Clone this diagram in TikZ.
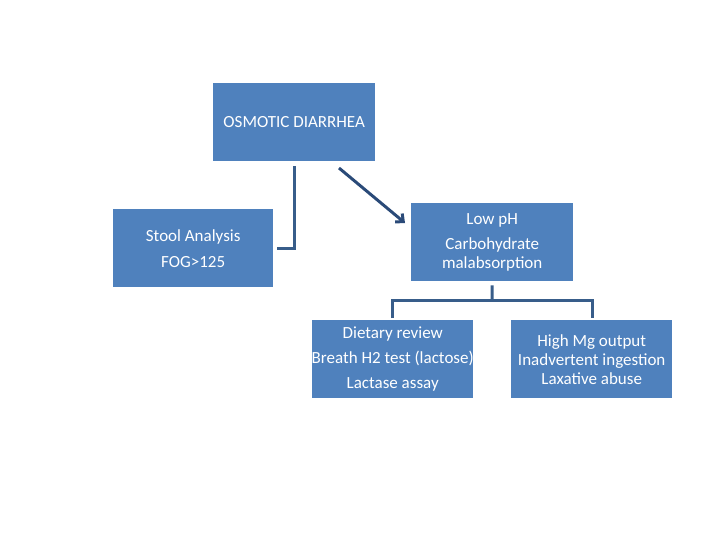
\documentclass[tikz,border=0pt]{standalone}
\usepackage{fontspec}
\setmainfont{Carlito}
\usetikzlibrary{arrows.meta}
\definecolor{boxblue}{HTML}{4F81BD}
\definecolor{linkblue}{HTML}{385D8A}
\definecolor{arrowblue}{HTML}{2A4A78}
\tikzset{
  box/.style={fill=boxblue, draw=none, inner sep=0pt, text=white, align=center,
    font=\fontsize{17}{19}\selectfont, anchor=north west},
  link/.style={draw=linkblue, line width=3pt},
  arrowlink/.style={draw=arrowblue, line width=3pt, -{Straight Barb[length=6pt,width=11pt]}}
}
\begin{document}
\begin{tikzpicture}[x=1pt,y=-1pt]
\useasboundingbox (0,0) rectangle (720,540);
\node[box, minimum width=162pt, minimum height=78pt] (osm) at (213,83) {OSMOTIC DIARRHEA};
\node[box, minimum width=160pt, minimum height=78pt] (stool) at (113,209) {Stool Analysis\\[7pt]FOG>125};
\node[box, minimum width=162pt, minimum height=78pt] (low) at (411,203) {Low pH\\[6pt]Carbohydrate\\malabsorption};
\node[box, minimum width=161pt, minimum height=78pt] (diet) at (312,320) {Dietary review\\[6pt]\makebox[0pt][c]{Breath H2 test (lactose)}\\[6pt]Lactase assay};
\node[box, minimum width=161pt, minimum height=78pt] (mg) at (511,320) {High Mg output\\Inadvertent ingestion\\Laxative abuse};
\coordinate (osmdown) at ([yshift=-5pt]osm.south);
\draw[link] (osmdown) |- ([xshift=4pt]stool.east);
\draw[arrowlink] (339,168) -- ([xshift=-6pt,yshift=-20pt]low.north west);
\coordinate (mid) at (492,300);
\draw[link] ([yshift=-4pt]low.south) -- (mid);
\draw[link] ([yshift=2pt]diet.north -| 392,0) -- (392,300) -- (592,300) -- ([yshift=2pt]mg.north -| 592,0);
\end{tikzpicture}
\end{document}
